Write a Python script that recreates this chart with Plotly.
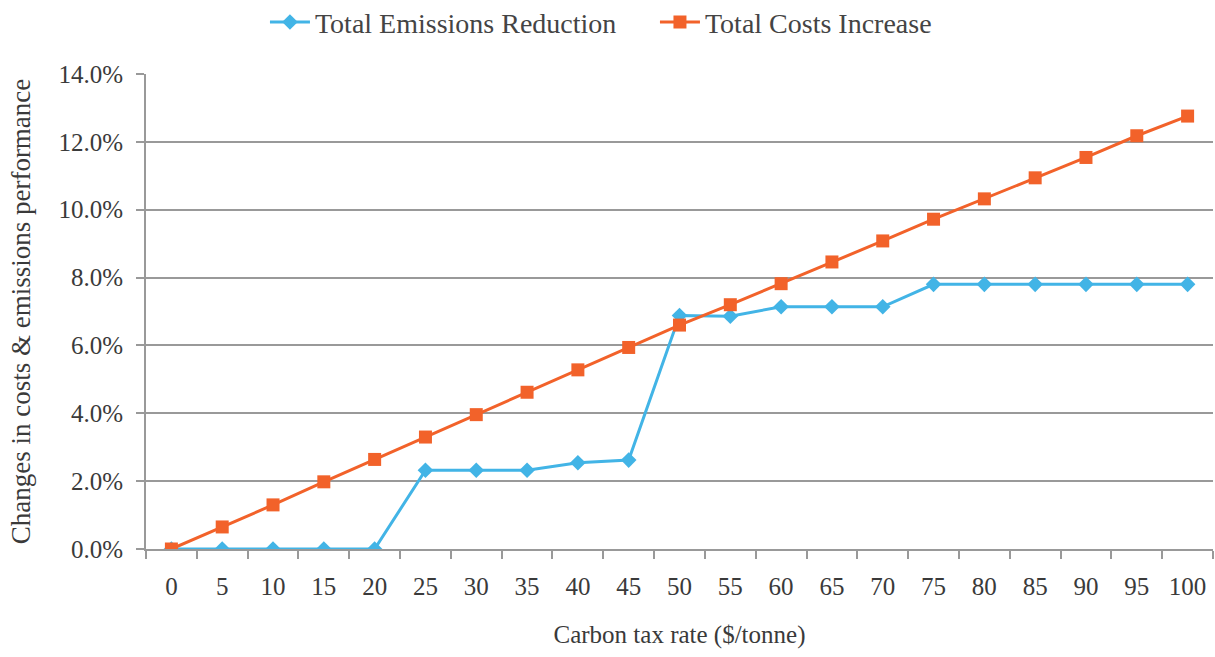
import plotly.graph_objects as go

# Carbon tax rates ($/tonne) and the resulting percentage changes
tax_rates = ["0", "5", "10", "15", "20", "25", "30", "35", "40", "45", "50",
             "55", "60", "65", "70", "75", "80", "85", "90", "95", "100"]
emissions_reduction = [0.0, 0.0, 0.0, 0.0, 0.0, 2.32, 2.32, 2.32, 2.54, 2.62, 6.88,
                       6.86, 7.14, 7.14, 7.14, 7.8, 7.8, 7.8, 7.8, 7.8, 7.8]
costs_increase = [0.0, 0.65, 1.3, 1.98, 2.64, 3.3, 3.96, 4.62, 5.28, 5.94, 6.6,
                  7.2, 7.82, 8.46, 9.08, 9.72, 10.32, 10.94, 11.54, 12.18, 12.76]
y_ticks = [0, 2, 4, 6, 8, 10, 12, 14]
y_tick_labels = ["0.0%", "2.0%", "4.0%", "6.0%", "8.0%", "10.0%", "12.0%", "14.0%"]

FONT = "Liberation Serif"
TEXT = "#3a3a3a"
BLUE = "#42b4e6"
ORANGE = "#f2622a"

fig = go.Figure()
fig.add_trace(go.Scatter(
    x=tax_rates, y=emissions_reduction, mode="lines+markers",
    name="Total Emissions Reduction",
    line=dict(color=BLUE, width=3),
    marker=dict(symbol="diamond", size=12, color=BLUE),
))
fig.add_trace(go.Scatter(
    x=tax_rates, y=costs_increase, mode="lines+markers",
    name="Total Costs Increase",
    line=dict(color=ORANGE, width=3),
    marker=dict(symbol="square", size=13, color=ORANGE),
))

fig.update_layout(
    width=1215, height=657,
    margin=dict(l=146, r=2, t=74, b=108, autoexpand=False),
    paper_bgcolor="white", plot_bgcolor="white",
    font=dict(family=FONT, size=24, color=TEXT),
    legend=dict(orientation="h", x=0.477, xanchor="center",
                yref="container", y=0.966, yanchor="middle",
                font=dict(family=FONT, size=28, color="#444444"), itemwidth=40,
                entrywidth=335, entrywidthmode="pixels",
                traceorder="normal"),
    xaxis=dict(
        type="category", range=[-0.5, 20.5],
        showline=True, linecolor="#999999", linewidth=2,
        ticks="outside", tickson="boundaries", ticklen=8, tickcolor="#999999",
        tickwidth=1.5, showgrid=False, ticklabelstandoff=14,
        title=dict(text="Carbon tax rate ($/tonne)", standoff=26,
                   font=dict(family=FONT, size=25, color=TEXT)),
        tickfont=dict(family=FONT, size=25, color=TEXT),
    ),
    yaxis=dict(
        range=[0, 14], tickvals=y_ticks, ticktext=y_tick_labels,
        showline=True, linecolor="#999999", linewidth=2,
        ticks="outside", ticklen=8, tickcolor="#999999", tickwidth=1.5,
        showgrid=True, gridcolor="#999999", gridwidth=2,
        zeroline=False, ticklabelstandoff=8,
        title=dict(text="Changes in costs & emissions performance", standoff=20,
                   font=dict(family=FONT, size=27, color=TEXT)),
        tickfont=dict(family=FONT, size=25, color=TEXT),
    ),
)

fig.write_html("out.html")
